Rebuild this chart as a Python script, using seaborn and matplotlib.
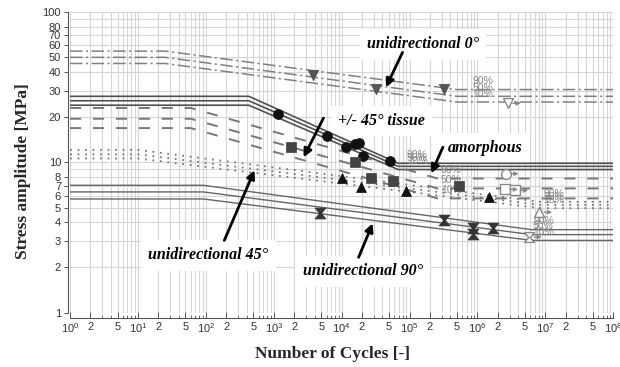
import matplotlib
matplotlib.use("Agg")
import matplotlib.pyplot as plt
import seaborn as sns
from matplotlib.path import Path
from matplotlib.markers import MarkerStyle
from matplotlib.ticker import FixedLocator, FixedFormatter, NullFormatter

# S-N curves: break points (cycles) and stress amplitude [MPa]
# for 90 / 50 / 10 % survival probability
knees_0 = [1, 25, 5e5, 1e8]
uni0_90 = [55, 55, 30.5, 30.5]
uni0_50 = [50, 50, 27.5, 27.5]
uni0_10 = [45.5, 45.5, 25.2, 25.2]

knees_tissue = [1, 430, 6.8e4, 1e8]
tissue_90 = [27.5, 27.5, 9.85, 9.85]
tissue_50 = [25.7, 25.7, 9.4, 9.4]
tissue_10 = [24, 24, 8.95, 8.95]

knees_amorph = [1, 60, 2.6e5, 1e8]
amorph_90 = [23, 23, 7.8, 7.8]
amorph_50 = [19.5, 19.5, 6.7, 6.7]
amorph_10 = [16.9, 16.9, 5.75, 5.75]

knees_45 = [1, 10, 8.5e6, 1e8]
uni45_90 = [12.1, 12.1, 5.45, 5.45]
uni45_50 = [11.3, 11.3, 5.2, 5.2]
uni45_10 = [10.6, 10.6, 4.95, 4.95]

knees_90 = [1, 92, 6.3e6, 1e8]
uni90_90 = [7.03, 7.03, 3.56, 3.56]
uni90_50 = [6.35, 6.35, 3.3, 3.3]
uni90_10 = [5.7, 5.7, 3.02, 3.02]

# where the 90/50/10 % labels sit (cycles)
label_N = {"0": 8.5e5, "tissue": 9.1e4, "amorph": 2.9e5, "45": 9.3e6, "90": 6.6e6}
pct_labels = ["90%", "50%", "10%"]

# test results (failures)
uni0_N = [3800, 3.2e4, 3.2e5]
uni0_S = [38, 31, 31]
tissue_N = [1150, 6000, 11500, 15500, 17800, 21000, 51000]
tissue_S = [20.9, 14.9, 12.6, 13.2, 13.4, 11.0, 10.2]
amorph_N = [1800, 16000, 27500, 58000, 5.3e5]
amorph_S = [12.6, 10.0, 7.9, 7.5, 7.0]
uni45_N = [1e4, 1.9e4, 8.8e4, 1.5e6]
uni45_S = [7.9, 6.9, 6.45, 5.9]
uni90_N = [4800, 3.2e5, 8.6e5, 8.6e5, 1.67e6]
uni90_S = [4.6, 4.1, 3.66, 3.31, 3.63]

# run-outs
run0_N, run0_S = [2.8e6], [24.7]
run_tissue_N, run_tissue_S = [2.6e6], [8.4]
run_amorph_N, run_amorph_S = [2.55e6, 3.6e6], [6.6, 6.5]
run45_N, run45_S = [8.1e6], [4.65]
run90_N, run90_S = [5.7e6], [3.18]

x_ticks = [1, 2, 5, 10, 20, 50, 1e2, 2e2, 5e2, 1e3, 2e3, 5e3, 1e4, 2e4, 5e4,
           1e5, 2e5, 5e5, 1e6, 2e6, 5e6, 1e7, 2e7, 5e7, 1e8]
x_tick_labels = ["$10^{0}$", "2", "5", "$10^{1}$", "2", "5", "$10^{2}$", "2", "5",
                 "$10^{3}$", "2", "5", "$10^{4}$", "2", "5", "$10^{5}$", "2", "5",
                 "$10^{6}$", "2", "5", "$10^{7}$", "2", "5", "$10^{8}$"]
y_ticks = [1, 2, 3, 4, 5, 6, 7, 8, 10, 20, 30, 40, 50, 60, 70, 80, 100]
y_tick_labels = [str(v) for v in y_ticks]

sns.set_style("ticks")
plt.rcParams["font.family"] = ["Liberation Sans", "DejaVu Sans"]
plt.rcParams["mathtext.default"] = "regular"
plt.rcParams["lines.scale_dashes"] = False

fig, ax = plt.subplots(figsize=(6.2, 3.67), dpi=100)
fig.subplots_adjust(left=0.113, right=0.989, bottom=0.1485, top=0.967)
ax.set_xscale("log")
ax.set_yscale("log")


def draw_family(knees, levels, color, ls, lw):
    for s in levels:
        sns.lineplot(x=knees, y=s, ax=ax, color=color, linestyle=ls,
                     linewidth=lw, estimator=None, sort=False, zorder=2)


def pct_text(n, levels, color):
    for lbl, s in zip(pct_labels, levels):
        ax.annotate(lbl, xy=(n, s[-1]), xytext=(0, 6), textcoords="offset points",
                    ha="left", va="center", fontsize=7.5, color=color, zorder=4)


dashdot = (0, (9, 2.5, 1.5, 2.5))
dashed = (0, (8, 8.5))
dotted = (0, (1.3, 4.1))

draw_family(knees_0, [uni0_90, uni0_50, uni0_10], "#808080", dashdot, 1.1)
draw_family(knees_tissue, [tissue_90, tissue_50, tissue_10], "#505050", "-", 1.2)
draw_family(knees_amorph, [amorph_90, amorph_50, amorph_10], "#777777", dashed, 1.4)
draw_family(knees_45, [uni45_90, uni45_50, uni45_10], "#777777", dotted, 1.3)
draw_family(knees_90, [uni90_90, uni90_50, uni90_10], "#666666", "-", 1.0)

pct_text(label_N["0"], [uni0_90, uni0_50, uni0_10], "#888888")
pct_text(label_N["tissue"], [tissue_90, tissue_50, tissue_10], "#888888")
pct_text(label_N["amorph"], [amorph_90, amorph_50, amorph_10], "#888888")
pct_text(label_N["45"], [uni45_90, uni45_50, uni45_10], "#888888")
pct_text(label_N["90"], [uni90_90, uni90_50, uni90_10], "#888888")

hourglass = MarkerStyle(Path([(-1, 1), (1, 1), (0.15, 0), (1, -1), (-1, -1),
                              (-0.15, 0), (-1, 1)], closed=True))

sns.scatterplot(x=uni0_N, y=uni0_S, ax=ax, marker="v", s=55, color="#555555",
                edgecolor="#555555", zorder=5)
sns.scatterplot(x=tissue_N, y=tissue_S, ax=ax, marker="o", s=50, color="#111111",
                edgecolor="#111111", zorder=5)
sns.scatterplot(x=amorph_N, y=amorph_S, ax=ax, marker="s", s=42, color="#444444",
                edgecolor="#444444", zorder=5)
sns.scatterplot(x=uni45_N, y=uni45_S, ax=ax, marker="^", s=50, color="#111111",
                edgecolor="#111111", zorder=5)
sns.scatterplot(x=uni90_N, y=uni90_S, ax=ax, marker=hourglass, s=60, color="#333333",
                edgecolor="#333333", zorder=5)

# run-outs: open symbol with a small arrow
runouts = [(run0_N, run0_S, "v"), (run_tissue_N, run_tissue_S, "o"),
           (run_amorph_N, run_amorph_S, "s"), (run45_N, run45_S, "^"),
           (run90_N, run90_S, hourglass)]
for rn, rs, mk in runouts:
    sns.scatterplot(x=rn, y=rs, ax=ax, marker=mk, s=50, color="white",
                    edgecolor="#888888", linewidth=1.0, zorder=5)
    for n, s in zip(rn, rs):
        ax.annotate("", xy=(n * 10 ** (13 / 67.75), s), xytext=(n * 10 ** (5 / 67.75), s),
                    arrowprops=dict(arrowstyle="-|>", color="#888888", lw=0.9,
                                    mutation_scale=6, shrinkA=0, shrinkB=0), zorder=5)

# labels with arrows
notes = [
    ("unidirectional 0°", (1.57e5, 61), (7.9e4, 54), (4.5e4, 31.6)),
    ("+/- 45° tissue", (3.9e4, 18.8), (5400, 19.7), (2750, 10.8)),
    ("amorphous", (1.3e6, 12.4), (3.1e5, 12.6), (2.1e5, 8.45)),
    ("unidirectional 45°", (109, 2.4), (187, 3.02), (520, 8.85)),
    ("unidirectional 90°", (2.04e4, 1.88), (1.78e4, 2.33), (2.87e4, 3.92)),
]
for txt, pos, tail, head in notes:
    ax.text(pos[0], pos[1], txt, ha="center", va="center", fontsize=11.5,
            family=["Liberation Serif"], fontweight="bold", fontstyle="italic",
            color="black", zorder=1.5,
            bbox=dict(boxstyle="square,pad=0.45", fc="white", ec="none"))
    ax.annotate("", xy=head, xytext=tail,
                arrowprops=dict(arrowstyle="-|>", color="black", lw=2,
                                mutation_scale=12, shrinkA=0, shrinkB=0), zorder=6)

ax.set_xlim(1, 1e8)
ax.set_ylim(1, 100)
ax.xaxis.set_major_locator(FixedLocator(x_ticks))
ax.xaxis.set_major_formatter(FixedFormatter(x_tick_labels))
ax.xaxis.set_minor_locator(FixedLocator([m * 10 ** e for e in range(8) for m in (3, 4, 6, 7, 8, 9)]))
ax.xaxis.set_minor_formatter(NullFormatter())
ax.yaxis.set_major_locator(FixedLocator(y_ticks))
ax.yaxis.set_major_formatter(FixedFormatter(y_tick_labels))
ax.yaxis.set_minor_locator(FixedLocator([9, 90]))
ax.yaxis.set_minor_formatter(NullFormatter())

ax.grid(True, which="both", color="#d6d6d6", linewidth=0.8)
ax.set_axisbelow(True)
sns.despine(ax=ax)
ax.spines["left"].set_position(("outward", 1.5))
ax.spines["bottom"].set_position(("outward", 3.6))
for sp in ("left", "bottom"):
    ax.spines[sp].set_color("#555555")
    ax.spines[sp].set_linewidth(0.8)
ax.tick_params(axis="x", which="major", direction="in", length=4, width=0.7,
               color="#555555", labelsize=8, labelcolor="#333333", pad=3)
ax.tick_params(axis="x", which="minor", direction="in", length=2.5, width=0.6,
               color="#555555")
ax.tick_params(axis="y", which="major", direction="out", length=3, width=0.7,
               color="#555555", labelsize=8, labelcolor="#333333", pad=2)
ax.tick_params(axis="y", which="minor", length=0)

ax.set_xlabel("Number of Cycles [-]", family=["Liberation Serif"], fontweight="bold",
              fontsize=12.5)
ax.set_ylabel("Stress amplitude [MPa]", family=["Liberation Serif"], fontweight="bold",
              fontsize=12.5)
ax.xaxis.set_label_coords(0.483, -0.11)
ax.yaxis.set_label_coords(-0.072, 0.47)

fig.savefig("out.png", dpi=100)
